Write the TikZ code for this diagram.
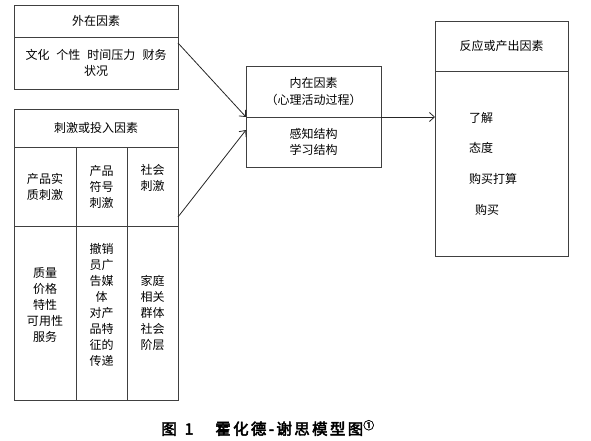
\documentclass[tikz,border=0pt]{standalone}
\usepackage{fontspec}
\newfontfamily\cjk{Noto Sans CJK SC}
\newfontfamily\cjkcap[FakeBold=3, LetterSpace=15]{Noto Sans CJK SC}
\usetikzlibrary{arrows.meta, positioning}

\begin{document}
\begin{tikzpicture}[
        x=1pt, y=-1pt,
        box/.style={rectangle, draw=black!75, line width=0.8pt, inner sep=0pt, outer sep=0pt, align=center, font=\cjk\fontsize{12pt}{16pt}\selectfont},
        link/.style={->, draw=black!85, line width=0.8pt},
        >={Straight Barb[length=5pt, width=9pt]}
      ]
      \useasboundingbox (0,0) rectangle (591,441);

      % External factors
      \node[box, minimum width=164pt, minimum height=32pt] (ext_head) at (96,21) {外在因素};
      \node[box, minimum width=164pt, minimum height=52pt, below=0pt of ext_head] (ext_body) {文化\hspace{7pt}个性\hspace{7pt}时间压力\hspace{7pt}财务\\状况};

      % Stimulus or input factors
      \node[box, minimum width=164pt, minimum height=38pt] (stim_head) at (96,128) {刺激或投入因素};
      \node[box, minimum width=62pt, minimum height=79pt, below right=0pt and 0pt of stim_head.south west] (phys_top) {产品实\\质刺激};
      \node[box, minimum width=51pt, minimum height=79pt, right=0pt of phys_top] (symb_top) {产品\\符号\\刺激};
      \node[box, minimum width=51pt, minimum height=79pt, text depth=18pt, right=0pt of symb_top] (soc_top) {社会\\刺激};
      \node[box, minimum width=62pt, minimum height=174pt, text depth=18pt, below=0pt of phys_top] (phys_bot) {质量\\价格\\特性\\可用性\\服务};
      \node[box, minimum width=51pt, minimum height=174pt, text depth=18pt, below=0pt of symb_top] (symb_bot) {撤销\\员广\\告媒\\体\\对产\\品特\\征的\\传递};
      \node[box, minimum width=51pt, minimum height=174pt, below=0pt of soc_top] (soc_bot) {家庭\\相关\\群体\\社会\\阶层};

      % Internal factors
      \node[box, minimum width=135pt, minimum height=51pt, font=\cjk\fontsize{12pt}{17.7pt}\selectfont] (inner_head) at (313.5,91.5) {内在因素\\（心理活动过程）};
      \node[box, minimum width=135pt, minimum height=50pt, below=0pt of inner_head] (inner_body) {感知结构\\学习结构};

      % Response or output factors
      \node[box, minimum width=133pt, minimum height=50pt] (resp_head) at (501.5,46) {反应或产出因素};
      \node[box, minimum width=133pt, minimum height=185pt, below=0pt of resp_head] (resp_body) {};
      \node[box, draw=none, align=left, font=\cjk\fontsize{12pt}{30.7pt}\selectfont, right=34pt of resp_body.west] (resp_items) {了解\\态度\\购买打算\\\hspace*{6pt}购买};

      % Connections
      \draw[link] ([yshift=-6pt]ext_body.north east) -- (inner_head.south west);
      \draw[link] ([yshift=9pt]soc_top.south east) -- ([yshift=-13pt]inner_body.north west);
      \draw[link] (inner_head.south east) -- (inner_head.south east -| resp_body.west);

      % Caption
      \node[anchor=west, inner sep=0pt, font=\cjkcap\fontsize{15.5pt}{18pt}\selectfont] (caption) at (161,428) {图\hspace{8pt}1\hspace{22pt}霍化德-谢思模型图\textsuperscript{①}};

      \end{tikzpicture}
\end{document}
